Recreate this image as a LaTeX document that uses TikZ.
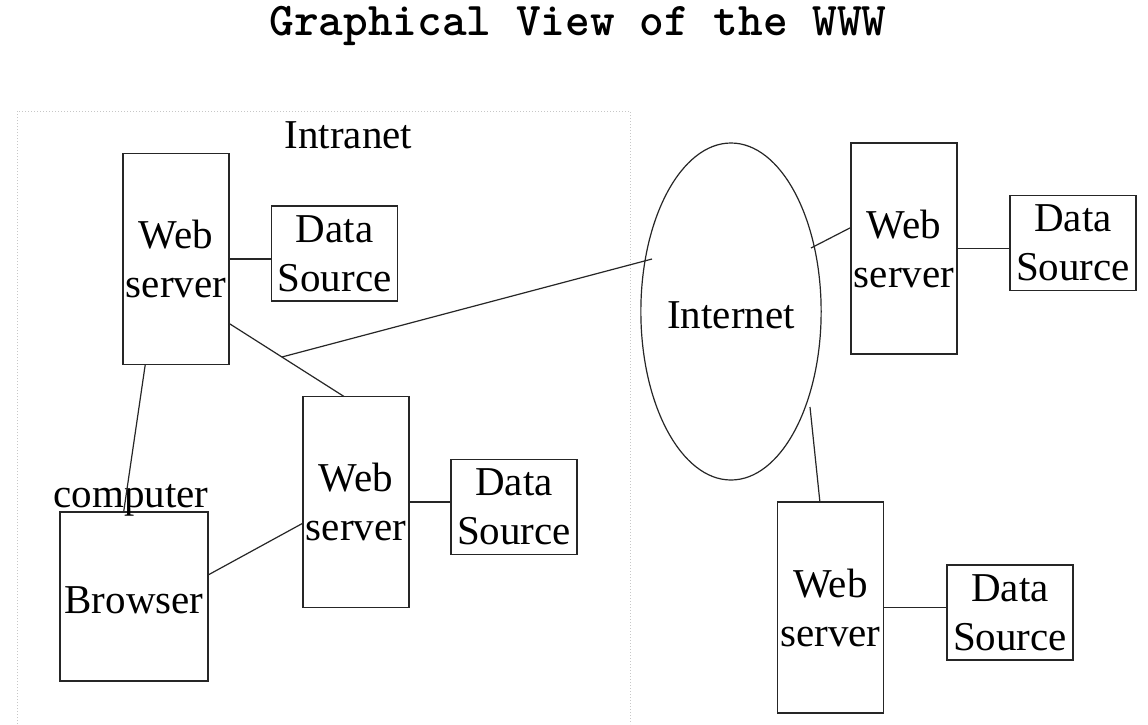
\documentclass[tikz,border=0pt]{standalone}
\usepackage{fontspec}
\setmainfont{Liberation Serif}
\usetikzlibrary{shapes.geometric,calc}
\begin{document}
\begin{tikzpicture}[x=1pt,y=-1pt,
  every node/.style={inner sep=0pt,outer sep=0pt},
  lbl/.style={font=\fontsize{41}{49}\selectfont},
  boxline/.style={draw=black!85,line width=1.3pt},
  srv/.style={boxline,rectangle,minimum width=106pt,minimum height=211pt,align=center,lbl},
  dsrc/.style={boxline,rectangle,minimum width=126pt,minimum height=95pt,align=center,lbl},
  single/.style={text height=33pt,text depth=0pt},
  conn/.style={draw=black!85,line width=1.2pt},
  frame/.style={draw=black!22,dotted,line width=1pt}
]
\useasboundingbox (0,0) rectangle (1148,724);
\fill[white] (0,0) rectangle (1148,724);

% title
\node[anchor=base,font=\ttfamily\bfseries\fontsize{47}{55}\selectfont] (title) at (578,35) {Graphical View of the WWW};

% intranet frame
\draw[frame] (17,724) -- (17,111) -- (630,111) -- (630,724);
\node[lbl,anchor=base] (intra) at (348.5,148) {Intranet};

% servers and data sources
\node[srv] (ws1) at (176,259) {Web\\server};
\node[srv] (ws2) at (356,502) {Web\\server};
\node[srv] (ws3) at (904,248.5) {Web\\server};
\node[srv] (ws4) at (830.5,607.5) {Web\\server};
\node[dsrc] (ds1) at (334.5,253.5) {Data\\Source};
\node[dsrc] (ds2) at (514,507) {Data\\Source};
\node[dsrc] (ds3) at (1073,243) {Data\\Source};
\node[dsrc] (ds4) at (1010,612.5) {Data\\Source};

% browser
\node[boxline,rectangle,minimum width=148pt,minimum height=169pt,lbl,single] (brw) at (134,596.5) {Browser};
\node[lbl,anchor=base] (comp) at (131,507) {computer};

% internet
\node[draw=black!85,line width=1.2pt,ellipse,minimum width=180pt,minimum height=337pt,lbl,single] (inet) at (731,311.5) {Internet};

% connectors
\draw[conn] (ws1.east) -- (ds1.west |- ws1.east);
\draw[conn] (ws2.east) -- (ds2.west |- ws2.east);
\draw[conn] (ws3.east) -- (ds3.west |- ws3.east);
\draw[conn] (ws4.east) -- (ds4.west |- ws4.east);

\draw[conn] ($(ws1.south west)!0.21!(ws1.south east)$) -- ($(brw.north west)!0.43!(brw.north east)$);
\draw[conn] ($(ws1.north east)!0.805!(ws1.south east)$) coordinate (p1)
  -- ($(ws2.north west)!0.387!(ws2.north east)$) coordinate (p2);
\coordinate (junc) at ($(p1)!0.46!(p2)$);
\coordinate (inetL) at (652,259);
\draw[conn] (junc) -- (inetL);
\coordinate (inetR) at (811,248);
\draw[conn] (inetR) -- ($(ws3.north west)!0.40!(ws3.south west)$);
\coordinate (inetB) at (810,407);
\draw[conn] (inetB) -- ($(ws4.north west)!0.40!(ws4.north east)$);
\draw[conn] ($(brw.north east)!0.373!(brw.south east)$) -- ($(ws2.north west)!0.6!(ws2.south west)$);
\end{tikzpicture}
\end{document}
